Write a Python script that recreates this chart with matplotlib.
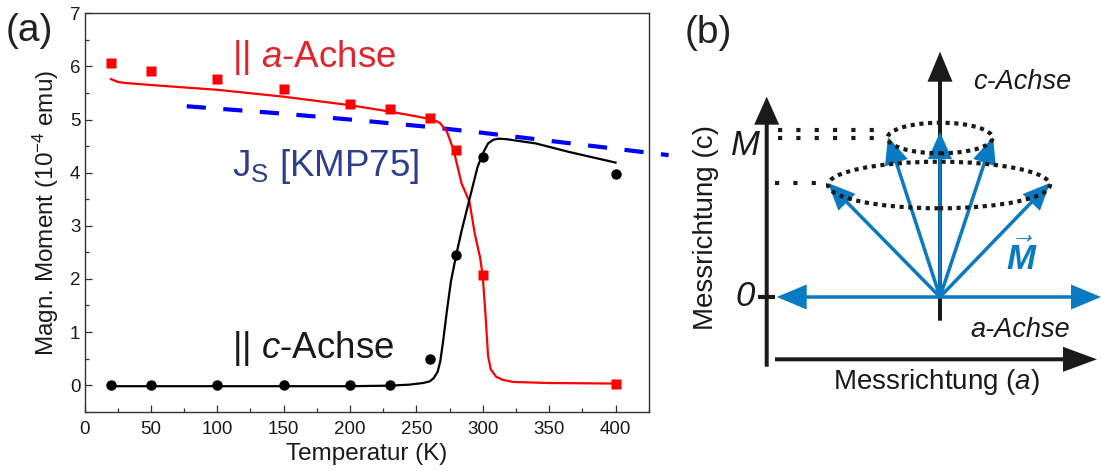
import matplotlib
matplotlib.use('Agg')
import matplotlib.pyplot as plt
from matplotlib.patches import Ellipse
from matplotlib.ticker import MultipleLocator

plt.rcParams['font.family'] = ['Liberation Sans', 'DejaVu Sans']
plt.rcParams['mathtext.fontset'] = 'custom'
plt.rcParams['mathtext.rm'] = 'Liberation Sans'
plt.rcParams['mathtext.it'] = 'Liberation Sans:italic'
plt.rcParams['mathtext.bf'] = 'Liberation Sans:bold:italic'

# ---------------- data (panel a) ----------------
T_meas = [20, 50, 100, 150, 200, 230, 260, 280, 300, 400]
M_a_meas = [6.07, 5.91, 5.76, 5.57, 5.30, 5.19, 5.02, 4.43, 2.07, 0.03]
M_c_meas = [0.0, 0.0, 0.0, 0.0, 0.0, 0.01, 0.50, 2.45, 4.30, 3.97]

T_fit_a = [20, 25, 30, 40, 50, 100, 150, 200, 230, 250, 260, 265, 268, 273, 278,
           284, 290, 294, 298, 300, 302, 304, 306, 310, 315, 323, 350, 400]
M_fit_a = [5.76, 5.71, 5.69, 5.67, 5.65, 5.56, 5.43, 5.27, 5.15, 5.06, 5.01, 4.97,
           4.93, 4.77, 4.43, 3.80, 3.45, 2.85, 2.40, 2.05, 1.35, 0.55, 0.30, 0.16,
           0.10, 0.06, 0.04, 0.03]

T_fit_c = [20, 50, 100, 150, 200, 230, 245, 255, 260, 263, 266, 268, 270, 273, 276,
           280, 284, 288, 292, 296, 300, 304, 308, 312, 318, 340, 365, 400]
M_fit_c = [-0.02, -0.02, -0.02, -0.02, -0.02, -0.01, 0.01, 0.04, 0.07, 0.13, 0.25,
           0.45, 0.80, 1.40, 1.95, 2.45, 2.90, 3.30, 3.70, 4.10, 4.36, 4.55, 4.62,
           4.64, 4.63, 4.55, 4.39, 4.19]

T_js = [77, 150, 200, 260, 300, 350, 400, 440]
M_js = [5.25, 5.11, 5.00, 4.86, 4.75, 4.60, 4.45, 4.33]

x_ticks = [0, 50, 100, 150, 200, 250, 300, 350, 400]
y_ticks = [0, 1, 2, 3, 4, 5, 6, 7]

# ---------------- figure ----------------
W, H = 1101, 471
fig = plt.figure(figsize=(W / 100, H / 100), dpi=100)


def px_rect(l, t, r, b):
    return [l / W, 1 - b / H, (r - l) / W, (b - t) / H]


def ftext(x, y, s, **kw):
    return fig.text(x / W, 1 - y / H, s, **kw)


ax = fig.add_axes(px_rect(84.5, 13.3, 648.7, 411.7))
RED = '#ff0000'
ax.plot(T_fit_a, M_fit_a, color=RED, lw=1.6, zorder=3)
ax.plot(T_fit_c, M_fit_c, color='black', lw=1.6, zorder=3)
ax.plot(T_meas, M_a_meas, 's', color=RED, ms=7, mec='none', zorder=4)
ax.plot(T_meas, M_c_meas, 'o', color='black', ms=7.5, mec='none', zorder=4)
ax.plot(T_js, M_js, color='#0000ff', lw=3.0, ls=(0, (4.6, 4.2)), clip_on=False, zorder=2)

ax.set_xlim(0, 425)
ax.set_ylim(-0.5, 7)
ax.set_xticks(x_ticks)
ax.set_yticks(y_ticks)
ax.xaxis.set_minor_locator(MultipleLocator(25))
ax.yaxis.set_minor_locator(MultipleLocator(0.5))
ax.tick_params(which='both', direction='in', top=False, right=False,
               colors='#333333', labelcolor='#1a1a1a', labelsize=13.5)
ax.tick_params(which='major', length=5, width=0.9)
ax.tick_params(which='minor', length=2.8, width=0.9)
ax.tick_params(axis='x', pad=7)
ax.tick_params(axis='y', pad=3)
for sp in ax.spines.values():
    sp.set_color('#333333')
    sp.set_linewidth(1.0)
ax.set_xlabel('Temperatur (K)', fontsize=17.5, color='#1a1a1a', labelpad=3)
ax.set_ylabel('Magn. Moment (10$^{-4}$ emu)', fontsize=17.5, color='#1a1a1a', labelpad=6)

ftext(6, 41, '(a)', fontsize=28, color='#222222', va='baseline')
ftext(232, 67, r'|| $\mathit{a}$-Achse', fontsize=26.5, color='#e3242b', va='baseline')
ftext(232, 176, r'J$_\mathrm{S}$ [KMP75]', fontsize=26.5, color='#2e3d8f', va='baseline')
ftext(232, 358, r'|| $\mathit{c}$-Achse', fontsize=26.5, color='#1a1a1a', va='baseline')

# ---------------- panel b (schematic) ----------------
OX, OY = 940, 297          # vector origin in figure pixels
ax2 = fig.add_axes(px_rect(660, 0, 1101, 471))
ax2.set_xlim(660 - OX, 1101 - OX)
ax2.set_ylim(OY - 471, OY)
ax2.axis('off')

BLK = '#1a1a1a'
BLUE = '#0a7bc2'

# measurement axes
meas_c_x, meas_c_y0, meas_c_tip = -173.3, -69.7, 200.3
meas_a_y, meas_a_x0, meas_a_tip = -62.3, -165.0, 157.0
c_axis_y0, c_axis_tip = -23.7, 245.3
ax2.arrow(meas_c_x, meas_c_y0, 0, meas_c_tip - meas_c_y0, width=4, head_width=25,
          head_length=28, length_includes_head=True, fc=BLK, ec='none', zorder=2)
ax2.arrow(meas_a_x0, meas_a_y, meas_a_tip - meas_a_x0, 0, width=4, head_width=25,
          head_length=34, length_includes_head=True, fc=BLK, ec='none', zorder=2)
ax2.arrow(0, c_axis_y0, 0, c_axis_tip - c_axis_y0, width=4, head_width=25,
          head_length=30, length_includes_head=True, fc=BLK, ec='none', zorder=2)
ax2.plot([-182, -165], [0, 0], color=BLK, lw=3, solid_capstyle='butt', zorder=2)

# cone ellipses
up_c, up_a, up_b = (0, 159), 52.5, 15.3
lo_c, lo_a, lo_b = (-1, 112), 111, 23.3
for (cx, cy), a, b in [(up_c, up_a, up_b), (lo_c, lo_a, lo_b)]:
    ax2.add_patch(Ellipse((cx, cy), 2 * a, 2 * b, fill=False, ec=BLK, lw=3,
                          ls=(0, (1, 1.1)), zorder=5))
# dotted projection lines
dot_lines = [((-162, -52), (167, 167)), ((-162, -52), (159.3, 159.3)),
             ((-165, -112), (113.7, 113.7))]
for xs, ys in dot_lines:
    ax2.plot(xs, ys, color=BLK, lw=3, ls=(0, (1, 3.4)), zorder=5)

# magnetization vectors
vec_tips = [(-52, 160), (0, 165), (53, 160), (-112, 114), (110, 114)]
for tx, ty in vec_tips:
    ax2.arrow(0, 0, tx, ty, width=3.5, head_width=24, head_length=27,
              length_includes_head=True, fc=BLUE, ec='none', zorder=4)
for tx in (-163.3, 161):
    ax2.arrow(0, 0, tx, 0, width=3.5, head_width=25, head_length=30,
              length_includes_head=True, fc=BLUE, ec='none', zorder=4, clip_on=False)

ftext(685, 43, '(b)', fontsize=28, color='#222222', va='baseline')
ftext(973, 89, 'c-Achse', fontsize=19.5, style='italic', color=BLK, va='baseline')
ftext(970, 337, 'a-Achse', fontsize=19.5, style='italic', color=BLK, va='baseline')
ftext(833, 389, r'Messrichtung ($\mathit{a}$)', fontsize=20, color=BLK, va='baseline')
ftext(713, 228, 'Messrichtung (c)', fontsize=20, color=BLK, rotation=90,
      va='baseline', ha='center', rotation_mode='anchor')
ftext(745, 146, 'M', fontsize=25, style='italic', color=BLK, ha='center', va='center')
ftext(745, 297, '0', fontsize=25, style='italic', color=BLK, ha='center', va='center')
ftext(1022, 258, r'$\vec{\mathbf{M}}$', fontsize=25, color=BLUE, ha='center', va='center')

fig.savefig('out.png', dpi=100)
